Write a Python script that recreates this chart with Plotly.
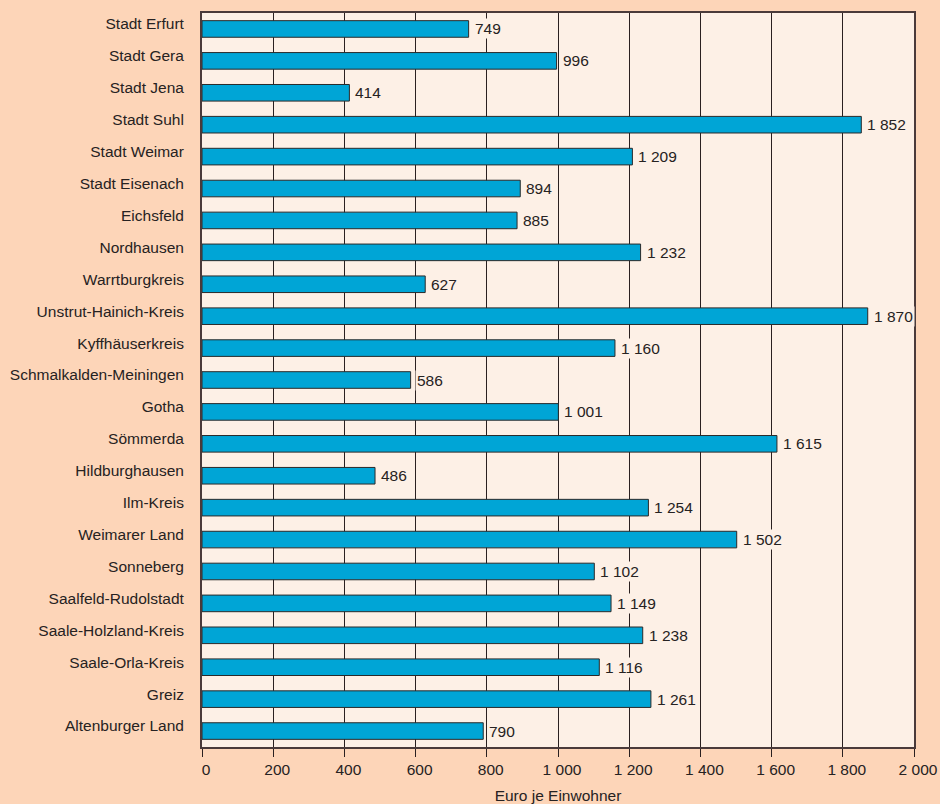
import plotly.graph_objects as go

categories = ["Stadt Erfurt", "Stadt Gera", "Stadt Jena", "Stadt Suhl", "Stadt Weimar",
              "Stadt Eisenach", "Eichsfeld", "Nordhausen", "Warrtburgkreis",
              "Unstrut-Hainich-Kreis", "Kyffhäuserkreis", "Schmalkalden-Meiningen",
              "Gotha", "Sömmerda", "Hildburghausen", "Ilm-Kreis", "Weimarer Land",
              "Sonneberg", "Saalfeld-Rudolstadt", "Saale-Holzland-Kreis",
              "Saale-Orla-Kreis", "Greiz", "Altenburger Land"]
values = [749, 996, 414, 1852, 1209, 894, 885, 1232, 627, 1870, 1160, 586, 1001,
          1615, 486, 1254, 1502, 1102, 1149, 1238, 1116, 1261, 790]
tick_vals = [0, 200, 400, 600, 800, 1000, 1200, 1400, 1600, 1800, 2000]
tick_text = ["0", "200", "400", "600", "800", "1 000", "1 200", "1 400", "1 600", "1 800", "2 000"]

def fmt(v):
    return f"{v:,}".replace(",", " ")

FS = 15.5
TXT = "#262222"
fig = go.Figure(go.Bar(
    x=values, y=categories, orientation="h", width=0.52,
    marker=dict(color="#00A5D6", line=dict(color="#2a2a2a", width=1)),
))

for c, v in zip(categories, values):
    fig.add_annotation(x=v, y=c, text=fmt(v), showarrow=False, xanchor="left",
                       xshift=4, bgcolor="#FDF0E6", borderpad=1,
                       font=dict(family="Liberation Sans, Arial", size=FS, color=TXT))

fig.update_layout(
    width=940, height=804,
    margin=dict(l=202, r=26, t=13, b=57),
    paper_bgcolor="#FDD5B8", plot_bgcolor="#FDF0E6",
    showlegend=False,
    font=dict(family="Liberation Sans, Arial", size=FS, color=TXT),
    xaxis=dict(range=[0, 2000], tickvals=tick_vals, ticktext=tick_text,
               automargin=False, ticklabelshift=4,
               showgrid=True, gridcolor="#2a2020", gridwidth=1,
               ticks="outside", ticklen=8, tickcolor="#2a2020",
               showline=True, linecolor="#4a3a3a", linewidth=1.5, mirror=True,
               zeroline=False,
               title=dict(text="Euro je Einwohner", standoff=15,
                          font=dict(size=FS, color=TXT))),
    yaxis=dict(autorange="reversed", showgrid=False, ticks="",
               ticklabelstandoff=13, ticklabelshift=5, automargin=False,
               showline=True, linecolor="#4a3a3a", linewidth=2, mirror=True),
)

fig.write_html("out.html", config={"displayModeBar": False},
               post_script="document.body.style.margin='0';document.body.style.background='#FDD5B8';")
